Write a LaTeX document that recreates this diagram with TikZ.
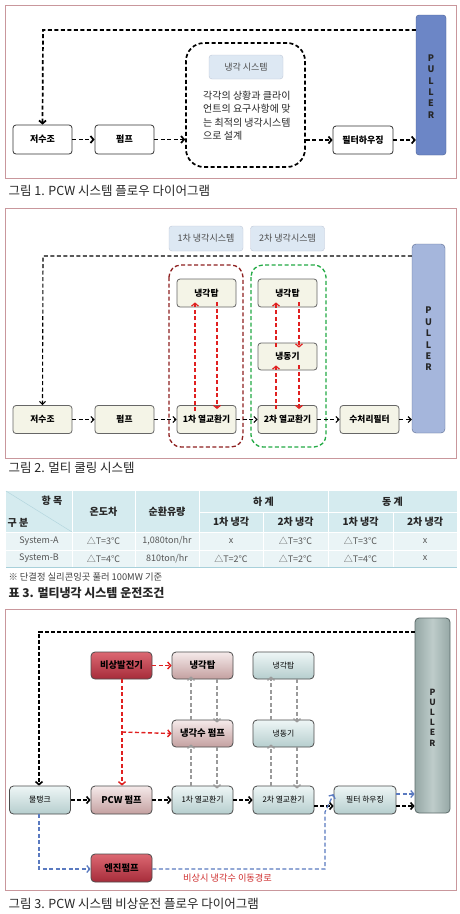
\documentclass[tikz,border=0pt]{standalone}
\usepackage{fontspec}
\setmainfont{Noto Sans CJK KR}
\usetikzlibrary{arrows.meta,calc}
\definecolor{framec}{HTML}{C9979C}
\definecolor{redarr}{HTML}{E02020}
\definecolor{bluearr}{HTML}{5A7AC0}
\definecolor{grayarr}{HTML}{9A9A9A}
\definecolor{hdrc}{HTML}{D5EBEF}
\definecolor{datac}{HTML}{EAF4F6}
\definecolor{tabtxt}{HTML}{555555}
\definecolor{tabline}{HTML}{A8D0DA}
\definecolor{tabdiag}{HTML}{B4D6DE}
\definecolor{box2fill}{HTML}{F4F4E7}
\definecolor{lblfill}{HTML}{DDE8F3}
\definecolor{lbldraw}{HTML}{C0C8D8}
\definecolor{p1fill}{HTML}{6C86C6}
\definecolor{p1draw}{HTML}{4A5F96}
\definecolor{p2fill}{HTML}{A5B6DC}
\definecolor{p2draw}{HTML}{5A6A90}
\definecolor{p3draw}{HTML}{5C6B6A}
\definecolor{p3out}{HTML}{96A8A6}
\definecolor{p3mid}{HTML}{BECCCA}
\definecolor{dkred}{HTML}{8E2020}
\definecolor{grn}{HTML}{22AA44}
\definecolor{tealtop}{HTML}{EEF6F6}
\definecolor{tealbot}{HTML}{B6CECE}
\definecolor{pinktop}{HTML}{F5EAEA}
\definecolor{pinkbot}{HTML}{C4A0A0}
\definecolor{redtop}{HTML}{DC6872}
\definecolor{redbot}{HTML}{A62C3A}
\definecolor{emred}{HTML}{D03030}
\tikzset{
  frm/.style={draw=framec, line width=0.8pt},
  captxt/.style={anchor=west, font=\fontsize{12.5}{14}\selectfont, text=black!85},
  box1/.style={draw=black!80, fill=white, rounded corners=3pt, line width=0.8pt, minimum width=59pt, minimum height=29pt, font=\bfseries\fontsize{9}{10}\selectfont},
  box2/.style={draw=black!60, fill=box2fill, rounded corners=3pt, line width=0.8pt, minimum width=59pt, minimum height=28pt, font=\bfseries\fontsize{8.7}{10}\selectfont},
  box3/.style={draw=black!70, top color=tealtop, bottom color=tealbot, rounded corners=4pt, line width=0.8pt, minimum width=61pt, minimum height=28pt, font=\fontsize{7.8}{9}\selectfont},
  pink3/.style={box3, top color=pinktop, bottom color=pinkbot, font=\bfseries\fontsize{9.3}{10}\selectfont},
  red3/.style={box3, top color=redtop, bottom color=redbot, font=\bfseries\fontsize{9.3}{10}\selectfont},
  lblbox/.style={draw=lbldraw, fill=lblfill, rounded corners=3pt, minimum width=74pt, minimum height=25pt, text=black!70, font=\fontsize{9}{10}\selectfont},
  fl1/.style={line width=1.7pt, dash pattern=on 4pt off 2.5pt, -{Straight Barb[length=3pt,width=7pt]}},
  fl2/.style={line width=1.1pt, dash pattern=on 4pt off 2.5pt, -{Straight Barb[length=3pt,width=6pt]}},
  fl3/.style={line width=1.6pt, dash pattern=on 4pt off 2pt, -{Straight Barb[length=3pt,width=7pt]}},
  redfl/.style={redarr, line width=1.2pt, dash pattern=on 4pt off 2.5pt, -{Straight Barb[length=3pt,width=7pt]}},
  grayfl/.style={grayarr, line width=1.4pt, dash pattern=on 4pt off 2.5pt, -{Straight Barb[length=3pt,width=7pt]}},
  bluefl/.style={bluearr, line width=1.3pt, dash pattern=on 4pt off 2.5pt, -{Straight Barb[length=3pt,width=7pt]}},
  pulltxt/.style={align=center, text=black!85, font=\bfseries\fontsize{9}{11.4}\selectfont},
  cell/.style={text=tabtxt, font=\fontsize{9}{10}\selectfont},
  hcell/.style={text=black!85, font=\bfseries\fontsize{10}{11}\selectfont},
}
\begin{document}
\begin{tikzpicture}[x=1pt,y=-1pt]
\useasboundingbox (0,0) rectangle (460,914);
\fill[white] (0,0) rectangle (460,914);

% ================= Figure 1 =================
\draw[frm] (5,5) rectangle (456,178);
\node[box1] (jsj1) at (42.5,139.5) {저수조};
\node[box1] (pump1) at (124.5,139.5) {펌프};
\node[draw=black, line width=1.7pt, dash pattern=on 4pt off 2.5pt, rounded corners=18pt, minimum width=119pt, minimum height=124pt] (sys1) at (245.5,105) {};
\node[lblbox, minimum height=24pt] (sys1lbl) at (246,67) {냉각 시스템};
\node[anchor=north west, align=left, font=\fontsize{10}{13.3}\selectfont, text=black!85, inner sep=0pt] (sys1txt) at (203,91) {각각의 상황과 클라이\\언트의 요구사항에 맞\\는 최적의 냉각시스템\\으로 설계};
\node[box1, minimum width=60pt, minimum height=28pt] (filt1) at (363,140) {필터하우징};
\node[draw=p1draw, fill=p1fill, rounded corners=3pt, minimum width=30pt, minimum height=140pt] (pull1) at (431,85) {};
\node[pulltxt] (pull1t) at (431,86.5) {P\\U\\L\\L\\E\\R};
\coordinate (fb1) at (43,30);
\draw[fl1] (pull1.west |- fb1) -- (fb1) -- (jsj1.north);
\draw[fl1] (jsj1.east) -- (pump1.west);
\draw[fl1] (pump1.east) -- (sys1.west |- pump1.east);
\draw[fl1] (sys1.east |- filt1.west) -- (filt1.west);
\draw[fl1] (filt1.east) -- (pull1.west |- filt1.east);
\node[captxt] (cap1) at (5,191) {그림 1. PCW 시스템 플로우 다이어그램};

% ================= Figure 2 =================
\draw[frm] (5,208) rectangle (456,458);
\node[lblbox] (l21) at (206,238.5) {1차 냉각시스템};
\node[lblbox] (l22) at (287.5,238.5) {2차 냉각시스템};
\draw[draw=dkred, line width=1.3pt, dash pattern=on 4pt off 2.5pt, rounded corners=12pt] (169,265) rectangle (243,447);
\draw[draw=grn, line width=1.3pt, dash pattern=on 4pt off 2.5pt, rounded corners=12pt] (251,265) rectangle (326,447);
\node[box2] (jsj2) at (42.5,419.5) {저수조};
\node[box2] (pump2) at (124.5,419.5) {펌프};
\node[box2] (hx21) at (206.5,419.5) {1차 열교환기};
\node[box2] (hx22) at (287.5,419.5) {2차 열교환기};
\node[box2] (wtf2) at (369.5,419.5) {수처리필터};
\node[box2] (ct21) at (206.5,293) {냉각탑};
\node[box2] (ct22) at (287.5,293) {냉각탑};
\node[box2, minimum height=27pt] (chl2) at (287.5,356.5) {냉동기};
\node[draw=p2draw, fill=p2fill, rounded corners=4pt, minimum width=33pt, minimum height=189pt] (pull2) at (428.5,338.5) {};
\node[pulltxt] (pull2t) at (428.5,339) {P\\U\\L\\L\\E\\R};
\coordinate (fb2) at (43,256);
\draw[fl2] (pull2.west |- fb2) -- (fb2) -- (jsj2.north);
\draw[fl2] (jsj2.east) -- (pump2.west);
\draw[fl2] (pump2.east) -- (hx21.west);
\draw[fl2] (hx21.east) -- (hx22.west);
\draw[fl2] (hx22.east) -- (wtf2.west);
\draw[fl2] (wtf2.east) -- (pull2.west |- wtf2.east);
% red arrows
\draw[redfl] ([xshift=-11.5pt,yshift=-6pt]hx21.north) -- ([xshift=-11.5pt,yshift=5pt]ct21.south);
\draw[redfl] ([xshift=10.5pt,yshift=5pt]ct21.south) -- ([xshift=10.5pt,yshift=-4pt]hx21.north);
\draw[redfl] ([xshift=-11.5pt,yshift=-4pt]chl2.north) -- ([xshift=-11.5pt,yshift=5pt]ct22.south);
\draw[redfl] ([xshift=11.5pt,yshift=5pt]ct22.south) -- ([xshift=11.5pt,yshift=-5pt]chl2.north);
\draw[redfl] ([xshift=-11.5pt,yshift=-4pt]hx22.north) -- ([xshift=-11.5pt,yshift=5pt]chl2.south);
\draw[redfl] ([xshift=11.5pt,yshift=5pt]chl2.south) -- ([xshift=11.5pt,yshift=-4pt]hx22.north);
\node[captxt] (cap2) at (5,468) {그림 2. 멀티 쿨링 시스템};

% ================= Table =================
\fill[hdrc] (6,491) rectangle (457,532);
\fill[datac] (6,532) rectangle (457,567);
\foreach \xx in {72,135,199,328} {
  \draw[white, line width=0.8pt] (\xx,491) -- (\xx,567);
}
\foreach \xx in {263,393} {
  \draw[white, line width=0.8pt] (\xx,512) -- (\xx,567);
}
\draw[white, line width=0.8pt] (199,512) -- (457,512);
\draw[white, line width=0.8pt] (6,550) -- (457,550);
\draw[white, line width=0.8pt] (6,532) -- (457,532);
\draw[draw=tabline, line width=0.6pt] (6,567) -- (457,567);
\draw[draw=tabdiag, line width=0.5pt] (6,491) -- (72,532);
\node[hcell] (th1) at (52,501) {항 목};
\node[hcell] (th2) at (18,523) {구 분};
\node[hcell] (th3) at (103.5,512) {온도차};
\node[hcell] (th4) at (167,512) {순환유량};
\node[hcell] (th5) at (263.5,501.5) {하 계};
\node[hcell] (th6) at (392.5,501.5) {동 계};
\node[hcell] (th7) at (231,522) {1차 냉각};
\node[hcell] (th8) at (295.5,522) {2차 냉각};
\node[hcell] (th9) at (360.5,522) {1차 냉각};
\node[hcell] (th10) at (425,522) {2차 냉각};
\node[cell] (a1) at (39,541) {System-A};
\node[cell] (a2) at (103.5,541) {△T=3℃};
\node[cell] (a3) at (167,541) {1,080ton/hr};
\node[cell] (a4) at (231,541) {x};
\node[cell] (a5) at (295.5,541) {△T=3℃};
\node[cell] (a6) at (360.5,541) {△T=3℃};
\node[cell] (a7) at (425,541) {x};
\node[cell] (b1) at (39,558.5) {System-B};
\node[cell] (b2) at (103.5,558.5) {△T=4℃};
\node[cell] (b3) at (167,558.5) {810ton/hr};
\node[cell] (b4) at (231,558.5) {△T=2℃};
\node[cell] (b5) at (295.5,558.5) {△T=2℃};
\node[cell] (b6) at (360.5,558.5) {△T=4℃};
\node[cell] (b7) at (425,558.5) {x};
\node[anchor=west, text=black!75, font=\fontsize{9.3}{10}\selectfont] (fn) at (5,577) {※ 단결정 실리콘잉곳 풀러 100MW 기준};
\node[captxt, font=\bfseries\fontsize{12}{13}\selectfont] (cap3t) at (5,593.5) {표 3. 멀티냉각 시스템 운전조건};

% ================= Figure 3 =================
\draw[frm] (5,609) rectangle (456,890);
\node[draw=p3draw, left color=p3out, right color=p3out, middle color=p3mid, rounded corners=4pt, line width=0.8pt, minimum width=35pt, minimum height=195pt] (pull3) at (432.5,715.5) {};
\node[pulltxt, font=\bfseries\fontsize{8.5}{10.2}\selectfont] (pull3t) at (432.5,717.5) {P\\U\\L\\L\\E\\R};
\node[box3] (tank) at (40,800) {물탱크};
\node[pink3] (pcw) at (121.5,800) {PCW 펌프};
\node[box3] (hx31) at (202.5,800) {1차 열교환기};
\node[box3] (hx32) at (283.5,800) {2차 열교환기};
\node[box3, minimum width=62pt] (filt3) at (365,800) {필터 하우징};
\node[red3, minimum height=27pt] (gen) at (121.5,665.5) {비상발전기};
\node[pink3, minimum height=27pt] (ct31) at (202.5,665.5) {냉각탑};
\node[box3, minimum height=27pt] (ct32) at (283.5,665.5) {냉각탑};
\node[pink3, minimum height=27pt] (cwp) at (202.5,733.5) {냉각수 펌프};
\node[box3, minimum height=27pt] (chl3) at (283.5,733.5) {냉동기};
\node[red3] (eng) at (121.5,868) {엔진펌프};
\node[text=emred, font=\fontsize{9.2}{10}\selectfont] (emtxt) at (227.5,878) {비상시 냉각수 이동경로};
% feedback
\coordinate (fb3) at (39,632);
\draw[fl3] (pull3.west |- fb3) -- (fb3) -- (tank.north -| fb3);
% main flow
\draw[fl3] (tank.east) -- (pcw.west);
\draw[fl3] (pcw.east) -- (hx31.west);
\draw[fl3] (hx31.east) -- (hx32.west);
\draw[fl3] ([yshift=-6pt]hx32.east) -- ([yshift=-6pt]filt3.west);
\coordinate (f3u) at ([yshift=-6pt]filt3.east);
\coordinate (f3d) at ([yshift=6pt]filt3.east);
\draw[fl3] (f3u) -- (pull3.west |- f3u);
\draw[bluefl] (f3d) -- (pull3.west |- f3d);
% red emergency power
\draw[redfl, line width=1.4pt] (gen.east) -- (ct31.west);
\coordinate (rbr) at (122,732);
\draw[redfl, line width=1.4pt] (gen.south -| rbr) -- (pcw.north -| rbr);
\draw[redfl, line width=1.4pt] (rbr) -- (cwp.west);
% gray loops
\draw[grayfl] ([xshift=-11.5pt]cwp.north) -- ([xshift=-11.5pt,yshift=3pt]ct31.south);
\draw[grayfl] ([xshift=14.5pt]ct31.south) -- ([xshift=14.5pt,yshift=-3pt]cwp.north);
\draw[grayfl] ([xshift=-11.5pt]hx31.north) -- ([xshift=-11.5pt,yshift=3pt]cwp.south);
\draw[grayfl] ([xshift=14.5pt]cwp.south) -- ([xshift=14.5pt,yshift=-3pt]hx31.north);
\draw[grayfl] ([xshift=-12.5pt]chl3.north) -- ([xshift=-12.5pt,yshift=3pt]ct32.south);
\draw[grayfl] ([xshift=13.5pt]ct32.south) -- ([xshift=13.5pt,yshift=-3pt]chl3.north);
\draw[grayfl] ([xshift=-12.5pt]hx32.north) -- ([xshift=-12.5pt,yshift=3pt]chl3.south);
\draw[grayfl] ([xshift=13.5pt]chl3.south) -- ([xshift=13.5pt,yshift=-3pt]hx32.north);
% blue emergency path
\coordinate (bl1) at (39,869);
\coordinate (bl2) at (325,869);
\coordinate (bl3) at (325,812);
\draw[bluefl] (tank.south -| bl1) -- (bl1) -- (eng.west |- bl1);
\draw[bluefl] (eng.east |- bl2) -- (bl2) -- (bl3) -- ([yshift=6pt]filt3.west);
\node[captxt] (cap3) at (5,904) {그림 3. PCW 시스템 비상운전 플로우 다이어그램};
\end{tikzpicture}
\end{document}
